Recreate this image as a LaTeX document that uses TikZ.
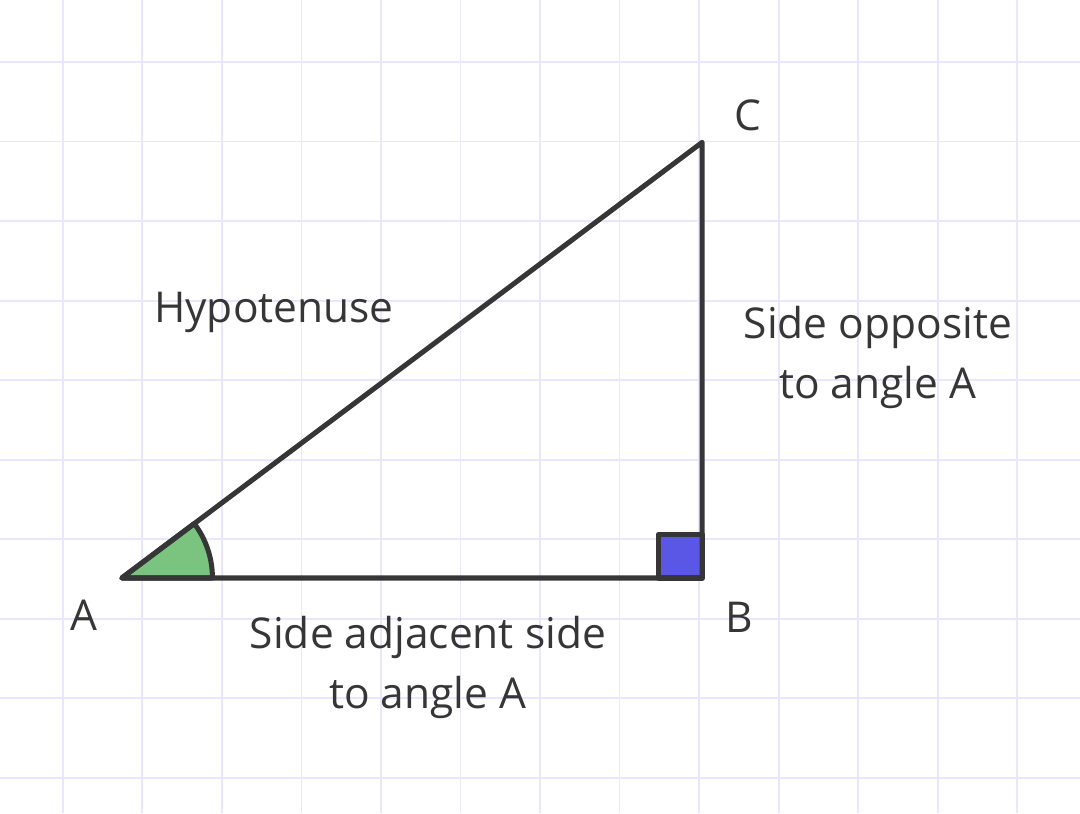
\documentclass[tikz,border=0pt]{standalone}
\usepackage{fontspec}
\setmainfont{Open Sans}
\definecolor{gridline}{HTML}{E9E6FD}
\definecolor{edge}{HTML}{363636}
\definecolor{anglefill}{HTML}{7BC47F}
\definecolor{rightfill}{HTML}{5B57E6}
\begin{document}
\begin{tikzpicture}[label text/.style={text=edge, font=\fontsize{15.2}{21.5}\selectfont, align=center, inner sep=0pt}]
    \useasboundingbox[fill=white] (-0.792, -0.447) rectangle (12.792, 9.780);

    % Grid
    \foreach \i in {0, ..., 12} {
      \draw [gridline, line width=0.7pt] (\i, -0.447) -- (\i, 9.780);
    }
    \foreach \j in {0, ..., 9} {
      \draw [gridline, line width=0.7pt] (-0.792, \j) -- (12.792, \j);
    }

    % Vertices
    \path (0.74, 2.51) coordinate (A);
    \path (8.04, 2.51) coordinate (B);
    \path (8.04, 7.99) coordinate (C);

    % Angle at A
    \draw [edge, fill=anglefill, line width=1.8pt, line join=round]
          (A) -- ++(1.14, 0) arc [start angle=0, end angle=36.9, radius=1.14] -- cycle;

    % Right angle at B
    \draw [edge, fill=rightfill, line width=1.8pt, line join=round]
          (B) rectangle ++(-0.55, 0.55);

    % Triangle
    \draw [edge, line width=1.8pt, line join=round] (A) -- (B) -- (C) -- cycle;

    % Labels
    \path (0.264, 2.038) node [label text] (lA) {A};
    \path (8.503, 2.013) node [label text] (lB) {B};
    \path (8.616, 8.333) node [label text] (lC) {C};
    \path (2.654, 5.85) node [label text] (hyp) {Hypotenuse};
    \path (10.25, 5.28) node [label text] (opp) {Side opposite\\to angle A};
    \path (4.59, 1.38) node [label text] (adj) {Side adjacent side\\to angle A};
\end{tikzpicture}
\end{document}
